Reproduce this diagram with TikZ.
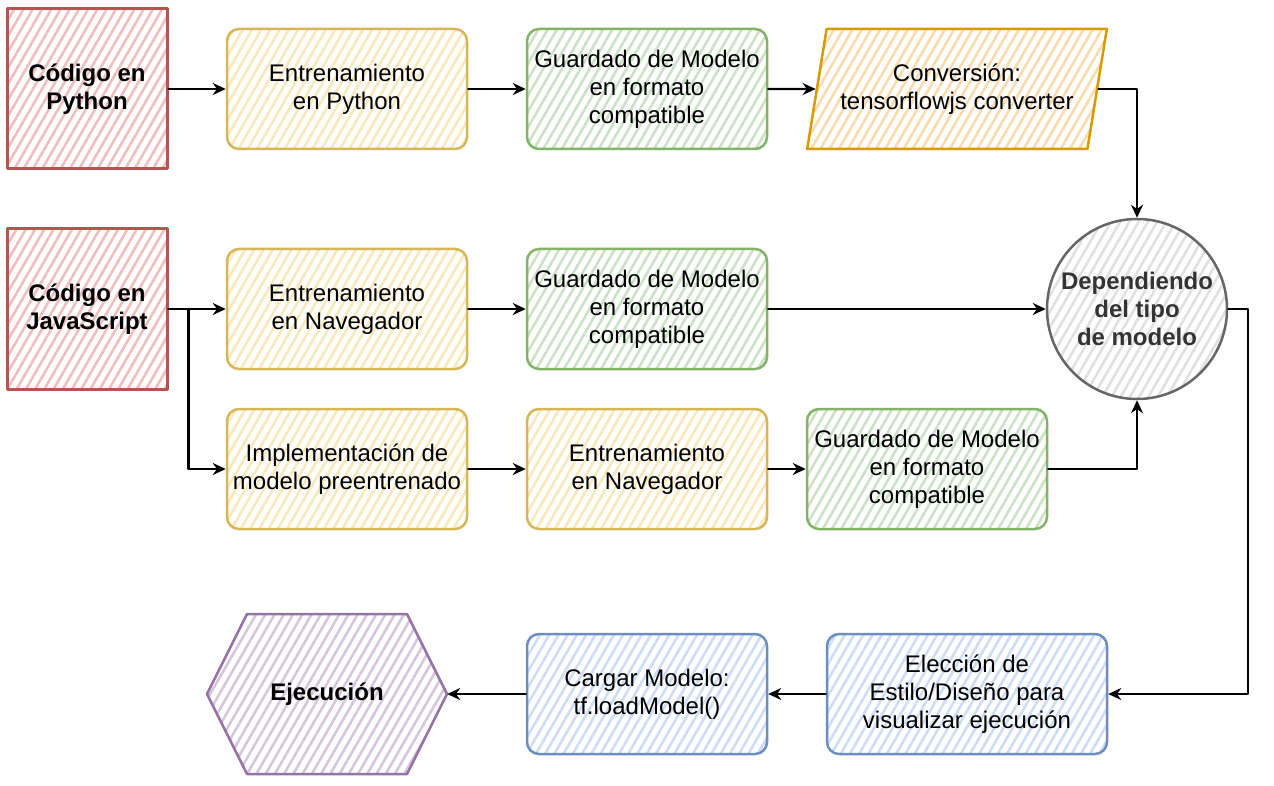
\documentclass[tikz,border=0pt]{standalone}
\usepackage{fontspec}
\setmainfont{Liberation Sans}
\usetikzlibrary{arrows.meta,shapes.geometric,patterns.meta}
\definecolor{redfill}{HTML}{F8CECC}\definecolor{redline}{HTML}{B85450}
\definecolor{yelfill}{HTML}{FFF2CC}\definecolor{yelline}{HTML}{D6B656}
\definecolor{grnfill}{HTML}{D5E8D4}\definecolor{grnline}{HTML}{82B366}
\definecolor{orafill}{HTML}{FFE6CC}\definecolor{oraline}{HTML}{D79B00}
\definecolor{gryfill}{HTML}{F5F5F5}\definecolor{gryline}{HTML}{666666}
\definecolor{blufill}{HTML}{DAE8FC}\definecolor{bluline}{HTML}{6C8EBF}
\definecolor{purfill}{HTML}{E1D5E7}\definecolor{purline}{HTML}{9673A6}
\definecolor{depfont}{HTML}{333333}
\begin{document}
\begin{tikzpicture}[x=1pt,y=-1pt,>={Stealth[open,length=13pt,width=12pt]}, line join=round, line cap=round,
	font=\fontsize{24}{28}\selectfont,
	hatch/.style={pattern={Lines[angle=60,distance=8pt,line width=2.6pt]}, pattern color=#1},
	box/.style={draw, line width=2.5pt, minimum width=240pt, minimum height=120pt, align=center, inner sep=1pt, rounded corners=12pt},
	srcbox/.style={draw=redline, hatch=redfill!88!redline, line width=3pt, minimum width=160pt, minimum height=160pt, align=center, font=\fontsize{24}{28}\selectfont\bfseries},
	trainbox/.style={box, draw=yelline, hatch=yelfill!85!yelline},
	savebox/.style={box, draw=grnline, hatch=grnfill!88!grnline},
	usebox/.style={box, draw=bluline, hatch=blufill!88!bluline},
	link/.style={->, line width=2.2pt}]
	\useasboundingbox (0,0) rectangle (1274,786);
	% fila de Python
	\node (pyc) at (87,89) [srcbox]{Código en\\Python};
	\node (entpy) at (347,89) [trainbox]{Entrenamiento\\en Python};
	\node (guard1) at (647,89) [savebox]{Guardado de Modelo\\en formato\\compatible};
	\node (conv) at (957,89) [trapezium, trapezium left angle=71.6, trapezium right angle=108.4, trapezium stretches=true,
		minimum width=300pt, minimum height=120pt, draw=oraline, hatch=orafill!85!oraline, line width=2.5pt, align=center, inner sep=1pt]
		{Conversión:\\tensorflowjs converter};
	% fila de JavaScript
	\node (jsc) at (87,309) [srcbox]{Código en\\JavaScript};
	\node (entnav1) at (347,309) [trainbox]{Entrenamiento\\en Navegador};
	\node (guard2) at (647,309) [savebox]{Guardado de Modelo\\en formato\\compatible};
	\node (dep) at (1137,309) [circle, draw=gryline, hatch=gryfill!85!gryline, line width=2.5pt, minimum size=180pt, inner sep=0pt,
		align=center, text=depfont, font=\fontsize{24}{28}\selectfont\bfseries]{Dependiendo\\del tipo\\de modelo};
	\node (impl) at (347,469) [trainbox]{Implementación de\\modelo preentrenado};
	\node (entnav2) at (647,469) [trainbox]{Entrenamiento\\en Navegador};
	\node (guard3) at (927,469) [savebox]{Guardado de Modelo\\en formato\\compatible};
	% ejecucion
	\node (elec) at (967,694) [usebox, minimum width=280pt]{Elección de\\Estilo/Diseño para\\visualizar ejecución};
	\node (cargar) at (647,694) [usebox]{Cargar Modelo:\\tf.loadModel()};
	\draw[draw=purline, hatch=purfill!85!purline, line width=2.5pt] (207,694) -- (247,614) -- (407,614) -- (447,694) -- (407,774) -- (247,774) -- cycle;
	\node (ejec) at (327,694) [minimum width=240pt, minimum height=160pt, inner sep=0pt, font=\fontsize{24}{28}\selectfont\bfseries]{Ejecución};
	% flechas
	\draw[link] (pyc) -- (entpy);
	\draw[link] (entpy) -- (guard1);
	\draw[link] (guard1) -- (conv);
	\draw[link] (conv.east) -| (dep.north);
	\draw[link] (jsc) -- (entnav1);
	\draw[link] (jsc.east) -- ++(20,0) |- (impl.west);
	\draw[link] (entnav1) -- (guard2);
	\draw[link] (guard2) -- (dep);
	\draw[link] (impl) -- (entnav2);
	\draw[link] (entnav2) -- (guard3);
	\draw[link] (guard3.east) -| (dep.south);
	\draw[link] (dep.east) -- ++(20,0) |- (elec.east);
	\draw[link] (elec) -- (cargar);
	\draw[link] (cargar) -- (ejec);
\end{tikzpicture}
\end{document}
